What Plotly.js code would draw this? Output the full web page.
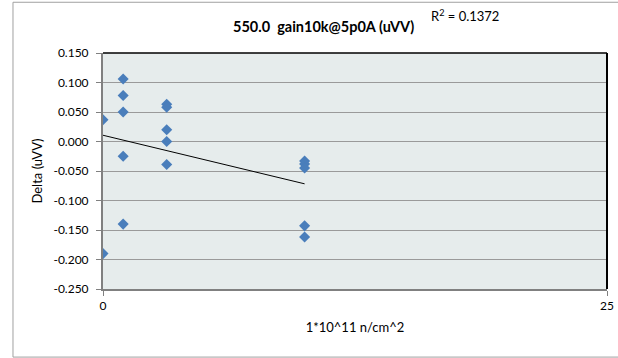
<!DOCTYPE html>
<html><head><meta charset="utf-8">
<script src="https://cdn.plot.ly/plotly-3.0.1.min.js"></script>
<style>html,body{margin:0;padding:0;background:#fff}#chart{width:618px;height:358px}</style>
</head><body><div id="chart"></div>
<script>
// Data
const fluence = [0, 0, 1, 1, 1, 1, 1, 3.16, 3.16, 3.16, 3.16, 3.16, 10, 10, 10, 10, 10];
const delta = [0.037, -0.190, 0.106, 0.078, 0.050, -0.025, -0.140,
               0.063, 0.058, 0.020, 0.000, -0.039,
               -0.033, -0.038, -0.045, -0.143, -0.162];
const yTicks = [-0.25, -0.2, -0.15, -0.1, -0.05, 0, 0.05, 0.1, 0.15];
const xTicks = [0, 25];
const titleText = '550.0  gain10k@5p0A (uVV)';
const xTitle = '1*10^11 n/cm^2';
const yTitle = 'Delta (uVV)';
const r2Label = 'R<sup>2</sup> = 0.1372';

// Linear regression (trend line)
const n = fluence.length;
const mx = fluence.reduce((a,b)=>a+b,0)/n;
const my = delta.reduce((a,b)=>a+b,0)/n;
let sxy=0,sxx=0;
for(let i=0;i<n;i++){sxy+=(fluence[i]-mx)*(delta[i]-my);sxx+=(fluence[i]-mx)**2;}
const slope=sxy/sxx, icpt=my-slope*mx;
const xmin=Math.min(...fluence), xmax=Math.max(...fluence);

const font = "Lato, 'Open Sans', sans-serif";
const traces = [
  {x: fluence, y: delta, mode:'markers', type:'scatter',
   marker:{symbol:'diamond', size:8.5, color:'#4a7ebb'}, hoverinfo:'skip'},
  {x:[xmin,xmax], y:[icpt+slope*xmin, icpt+slope*xmax], mode:'lines', type:'scatter',
   line:{color:'#000', width:1}, hoverinfo:'skip'}
];
const layout = {
  width:618, height:358, showlegend:false,
  margin:{l:103, r:11, t:53, b:69},
  paper_bgcolor:'#fff', plot_bgcolor:'#e6ecec',
  font:{family:font, size:12, color:'#000'},
  xaxis:{range:[0,25], tickvals:xTicks, ticktext:xTicks.map(String),
    showgrid:false, zeroline:false, showline:true, linecolor:'#808080', linewidth:2,
    ticks:'outside', ticklen:5, tickcolor:'#808080', tickfont:{size:12},
    title:{text:xTitle, font:{size:13}, standoff:10}},
  yaxis:{range:[-0.25,0.15], tickvals:yTicks, ticktext:yTicks.map(v=>v.toFixed(3)),
    showgrid:true, gridcolor:'#9a9a9a', gridwidth:1, zeroline:false,
    showline:true, linecolor:'#808080', linewidth:2,
    ticks:'outside', ticklen:5, tickcolor:'#808080', tickfont:{size:12},
    ticklabelstandoff:5,
    title:{text:yTitle, font:{size:13}, standoff:8}},
  shapes:[
    {type:'line', xref:'paper', yref:'paper', x0:0, x1:1, y0:1, y1:1, line:{color:'#000', width:1.5}},
    {type:'line', xref:'paper', yref:'paper', x0:1, x1:1, y0:0, y1:1, line:{color:'#000', width:2}},
    {type:'rect', xref:'paper', yref:'paper', x0:-0.1786, x1:1.1, y0:-0.2885, y1:1.215,
     line:{color:'#a0a0a0', width:1}, layer:'below'}
  ],
  annotations:[
    {text:'<b>'+titleText+'</b>', xref:'paper', yref:'paper', x:(323-103)/504, y:1+(53-26)/236,
     showarrow:false, font:{size:14.5}, xanchor:'center', yanchor:'middle'},
    {text:r2Label, xref:'paper', yref:'paper', x:(429-103)/504, y:1+(53-16)/236,
     showarrow:false, font:{size:13}, xanchor:'left', yanchor:'middle'}
  ]
};
Plotly.newPlot('chart', traces, layout, {staticPlot:true, displayModeBar:false});
</script></body></html>
